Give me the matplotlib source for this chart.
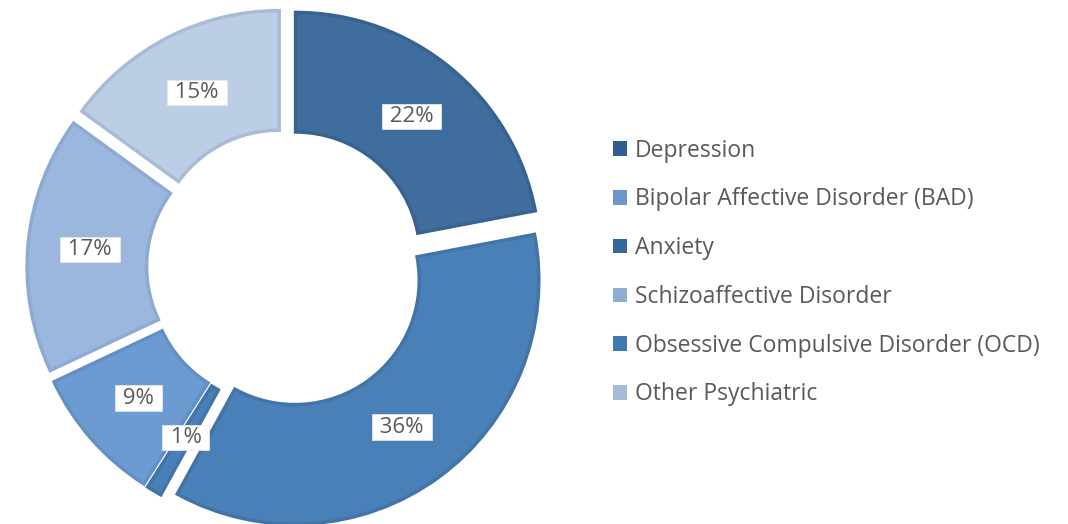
import matplotlib.pyplot as plt
from matplotlib.patches import Patch
import numpy as np

# data (clockwise from 12 o'clock)
categories = [
    "Depression",
    "Bipolar Affective Disorder (BAD)",
    "Anxiety",
    "Schizoaffective Disorder",
    "Obsessive Compulsive Disorder (OCD)",
    "Other Psychiatric",
]
shares = [22, 36, 1, 9, 17, 15]
pct_labels = ["22%", "36%", "1%", "9%", "17%", "15%"]

fill_colors = ["#3f6e9e", "#4a80b8", "#4a80b8", "#6c9bd2", "#9cb7dd", "#bccde6"]
edge_colors = ["#386390", "#4274a8", "#4274a8", "#6390c4", "#8eaad2", "#a9bbd6"]
legend_colors = ["#2f5f8f", "#6a98cc", "#36699b", "#8eacd4", "#4079b2", "#a8bcd9"]

W, H = 1068, 524
fig = plt.figure(figsize=(W / 100, H / 100), dpi=100)

# donut axes placed in pixel terms
cx, cy = 286, 524 - 268
R = 244          # pixel radius of the unexploded ring
half = 285
ax = fig.add_axes([(cx - half) / W, (cy - half) / H, 2 * half / W, 2 * half / H])
lim = half / R
ex = 15 / R

wedges, _ = ax.pie(
    shares,
    colors=fill_colors,
    startangle=90,
    counterclock=False,
    explode=[ex] * len(shares),
    radius=1.0,
    wedgeprops=dict(width=0.49, linewidth=2.5),
    frame=False,
)
for w, ec in zip(wedges, edge_colors):
    w.set_edgecolor(ec)
ax.set_aspect("equal")
ax.set_xlim(-lim, lim)
ax.set_ylim(-lim, lim)
ax.axis("off")

# percentage labels in white boxes
ang = 90.0
for s, lab in zip(shares, pct_labels):
    mid = np.deg2rad(ang - s * 3.6 / 2)
    ang -= s * 3.6
    r = 0.745 + ex
    x, y = r * np.cos(mid), r * np.sin(mid)
    ax.text(x, y, " " + lab + " ", ha="center", va="center", fontsize=16,
            family="Open Sans", color="#595959",
            bbox=dict(boxstyle="square,pad=0.1", fc="white", ec="#e6e6e6", lw=0.6))

handles = [Patch(facecolor=c, edgecolor="none") for c in legend_colors]
leg = fig.legend(
    handles, categories,
    loc="center left",
    bbox_to_anchor=(613 / W, 1 - 272.5 / H),
    frameon=False,
    prop=dict(family="Open Sans", size=16.5),
    handlelength=0.6,
    handleheight=0.6,
    handletextpad=0.35,
    labelspacing=1.08,
    borderaxespad=0,
    borderpad=0,
)
for t in leg.get_texts():
    t.set_color("#595959")

fig.savefig("out.png", dpi=100, facecolor="white")
